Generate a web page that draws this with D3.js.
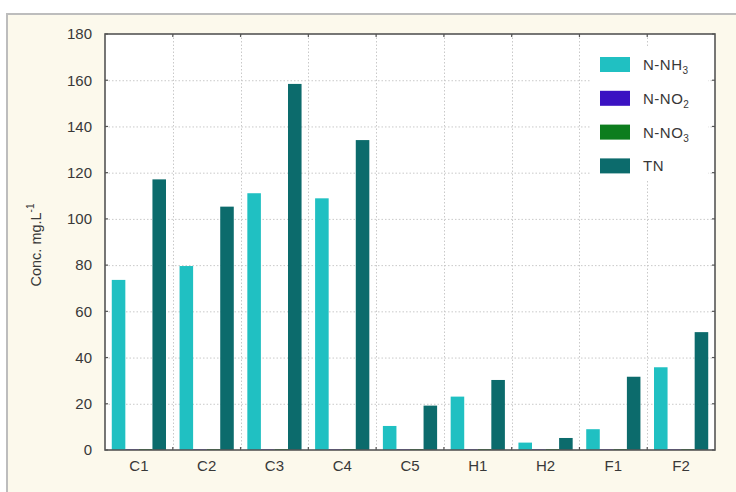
<!DOCTYPE html>
<html>
<head>
<meta charset="utf-8">
<script src="https://cdn.jsdelivr.net/npm/d3@7"></script>
<style>
  html, body { margin: 0; padding: 0; background: #ffffff; }
  svg { display: block; font-family: "Liberation Sans", Arial, sans-serif; }
</style>
</head>
<body>
<svg id="chart" width="736" height="492"></svg>
<script>
// Sampling sites and nitrogen species concentrations (mg/L)
const sites = ["C1", "C2", "C3", "C4", "C5", "H1", "H2", "F1", "F2"];
const nh3 = [73.6, 79.6, 111.1, 108.9, 10.4, 23.1, 3.2, 9.0, 35.8];
const no2 = [0.3, 0.3, 0.3, 0.3, 0.3, 0.3, 0.3, 0.3, 0.3];
const no3 = [0.4, 0.4, 0.4, 0.4, 0.4, 0.4, 0.4, 0.4, 0.4];
const tn = [117.1, 105.3, 158.4, 134.1, 19.2, 30.3, 5.2, 31.7, 51.0];
const yTicks = [0, 20, 40, 60, 80, 100, 120, 140, 160, 180];

const seriesKeys = ["nh3", "no2", "no3", "tn"];
const seriesValues = { nh3, no2, no3, tn };
const seriesColors = { nh3: "#20c0c2", no2: "#3b12c2", no3: "#0d7d1e", tn: "#0c6b6c" };
// legend label: base text and subscript
const seriesLabels = { nh3: ["N-NH", "3"], no2: ["N-NO", "2"], no3: ["N-NO", "3"], tn: ["TN", ""] };

const svg = d3.select("#chart");
const W = 736, H = 492;
const plot = { left: 105, right: 715, top: 34, bottom: 450 };
const textColor = "#383838";

// page background and outer panel
svg.append("rect").attr("width", W).attr("height", H).attr("fill", "#ffffff");
svg.append("rect").attr("x", 7).attr("y", 14).attr("width", W).attr("height", H)
  .attr("fill", "#fcf9ec").attr("stroke", "#bdbdbd").attr("stroke-width", 2);

const x = d3.scaleBand().domain(sites).range([plot.left, plot.right]).padding(0);
const xInner = d3.scaleBand().domain(seriesKeys).range([0, x.bandwidth()])
  .paddingInner(0).paddingOuter(0.5);
const y = d3.scaleLinear().domain([0, 180]).range([plot.bottom, plot.top]);

// plot area
svg.append("rect").attr("x", plot.left).attr("y", plot.top)
  .attr("width", plot.right - plot.left).attr("height", plot.bottom - plot.top)
  .attr("fill", "#ffffff");

// grid
const grid = svg.append("g").attr("stroke", "#c9c9c9").attr("stroke-width", 1)
  .attr("stroke-dasharray", "1.5,2");
grid.selectAll("line.h").data(yTicks.slice(1, -1)).join("line")
  .attr("x1", plot.left).attr("x2", plot.right)
  .attr("y1", d => y(d) + 0.5).attr("y2", d => y(d) + 0.5);
grid.selectAll("line.v").data(sites.slice(1)).join("line")
  .attr("y1", plot.top).attr("y2", plot.bottom)
  .attr("x1", d => Math.round(x(d)) + 0.5).attr("x2", d => Math.round(x(d)) + 0.5);

// legend backdrop
const lg = { x: 600, y: 57, step: 33.8 };
svg.append("rect").attr("x", 590).attr("y", 46).attr("width", 118).attr("height", 134)
  .attr("fill", "#ffffff");

// bars
const groups = svg.append("g").selectAll("g").data(sites).join("g")
  .attr("transform", d => `translate(${x(d)},0)`);
groups.selectAll("rect").data((d, i) => seriesKeys.map(k => ({ k, v: seriesValues[k][i] })))
  .join("rect")
  .attr("x", d => xInner(d.k))
  .attr("width", xInner.bandwidth())
  .attr("y", d => y(d.v))
  .attr("height", d => y(0) - y(d.v))
  .attr("fill", d => seriesColors[d.k]);

// axes
const yAxis = d3.axisLeft(y).tickValues(yTicks).tickSize(0).tickPadding(13);
const gy = svg.append("g").attr("transform", `translate(${plot.left},0)`).call(yAxis);
gy.select(".domain").remove();
gy.selectAll("text").attr("font-size", 15).attr("fill", textColor)
  .attr("font-family", "Liberation Sans, Arial, sans-serif");

const xAxis = d3.axisBottom(x).tickSize(0).tickPadding(10);
const gx = svg.append("g").attr("transform", `translate(0,${plot.bottom})`).call(xAxis);
gx.select(".domain").remove();
gx.selectAll("text").attr("font-size", 15).attr("fill", textColor)
  .attr("font-family", "Liberation Sans, Arial, sans-serif");

// inward tick marks on all four sides
const tickG = svg.append("g").attr("stroke", "#555").attr("stroke-width", 1.2);
yTicks.forEach(t => {
  tickG.append("line").attr("x1", plot.left).attr("x2", plot.left + 3).attr("y1", y(t)).attr("y2", y(t));
  tickG.append("line").attr("x1", plot.right - 3).attr("x2", plot.right).attr("y1", y(t)).attr("y2", y(t));
});
sites.slice(1).forEach(s => {
  tickG.append("line").attr("x1", x(s)).attr("x2", x(s)).attr("y1", plot.bottom - 3).attr("y2", plot.bottom);
  tickG.append("line").attr("x1", x(s)).attr("x2", x(s)).attr("y1", plot.top).attr("y2", plot.top + 3);
});

// frame
svg.append("rect").attr("x", plot.left).attr("y", plot.top)
  .attr("width", plot.right - plot.left).attr("height", plot.bottom - plot.top)
  .attr("fill", "none").attr("stroke", "#555").attr("stroke-width", 1.6);

// y-axis title
const yt = svg.append("text").attr("transform", "translate(41,245) rotate(-90)")
  .attr("text-anchor", "middle").attr("font-size", 14.5).attr("fill", textColor);
yt.append("tspan").text("Conc. mg.L");
yt.append("tspan").attr("dy", -7).attr("font-size", 10).text("-1");

// legend
seriesKeys.forEach((k, i) => {
  const ty = lg.y + i * lg.step;
  svg.append("rect").attr("x", lg.x).attr("y", ty).attr("width", 30).attr("height", 15)
    .attr("fill", seriesColors[k]);
  const t = svg.append("text").attr("x", lg.x + 43).attr("y", ty + 13)
    .attr("font-size", 15).attr("letter-spacing", 0.5).attr("fill", textColor);
  t.append("tspan").text(seriesLabels[k][0]);
  if (seriesLabels[k][1]) t.append("tspan").attr("dy", 4).attr("font-size", 10).text(seriesLabels[k][1]);
});
</script>
</body>
</html>
